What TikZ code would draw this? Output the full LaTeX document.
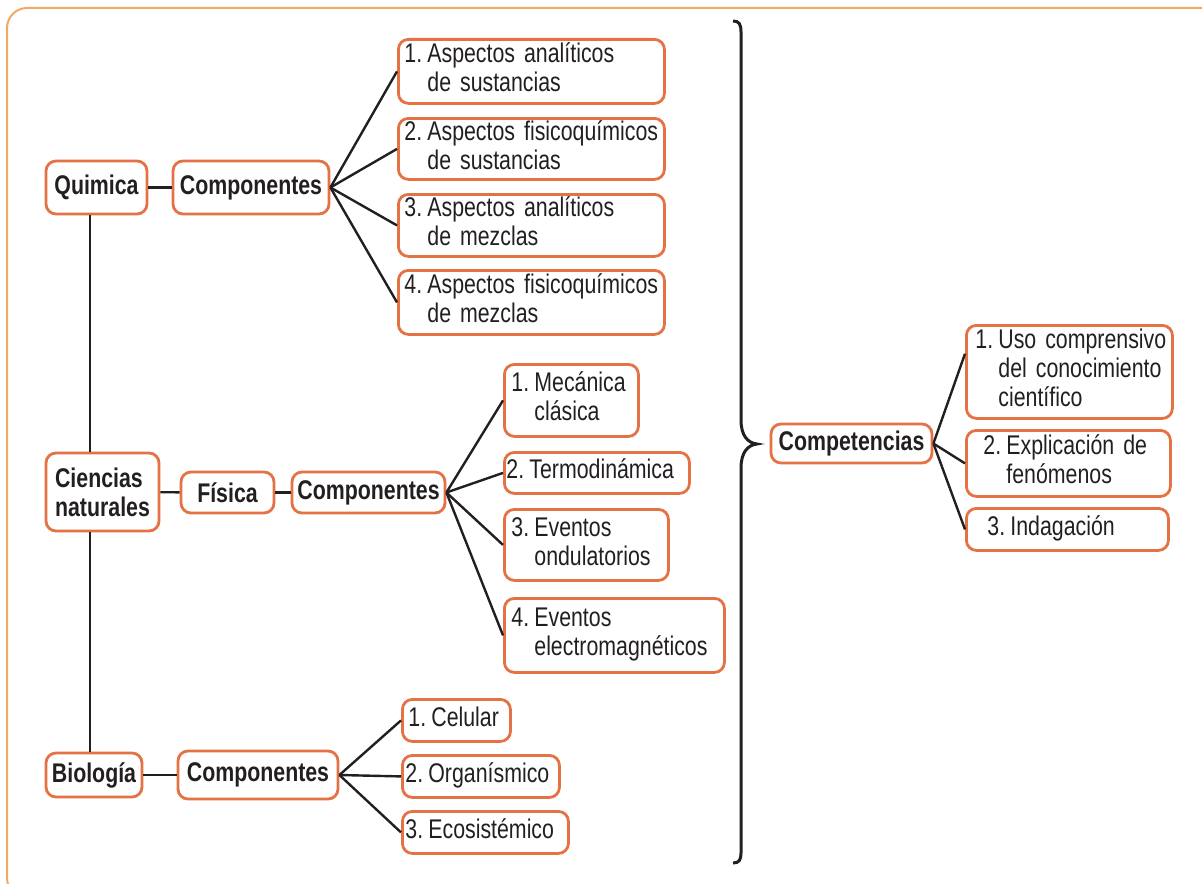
\documentclass[tikz,border=0pt]{standalone}
\usepackage{fontspec}
\setmainfont{Liberation Sans}[FakeStretch=0.79]
\usetikzlibrary{calc}
\definecolor{boxc}{RGB}{229,114,68}
\definecolor{framec}{RGB}{240,170,100}
\definecolor{txt}{RGB}{35,31,32}
\newcommand\lf[3]{\hspace*{#1pt}#2\kern2.6pt\begin{tabular}[t]{@{}l@{}}#3\end{tabular}}
\tikzset{
  box/.style={draw=boxc, line width=1.4pt, rounded corners=5pt, text=txt, inner sep=0pt},
  head/.style={box, font=\fontsize{13.5}{14.5}\selectfont\bfseries, align=left},
  leaf/.style={box, font=\fontsize{13.5}{14.5}\selectfont, align=left, anchor=north west},
  conn/.style={draw=txt, line width=1.2pt},
}
\begin{document}
\begin{tikzpicture}[x=0.5pt,y=-0.5pt]
\useasboundingbox (0,0) rectangle (1202,883);
\begin{scope}
\clip (0,0) rectangle (1202,883);
\draw[framec, line width=1pt, rounded corners=10pt] (7,8) rectangle (1250,898);
\end{scope}

% heads
\node[head, minimum width=50.5pt, minimum height=26.5pt] (Q) at (96.5,187.5) {Quimica};
\node[head, minimum width=78pt, minimum height=26.5pt] (CQ) at (251,187.5) {Componentes};
\node[head, minimum width=56.5pt, minimum height=39pt] (CN) at (102.5,492) {Ciencias\\naturales};
\node[head, minimum width=46.5pt, minimum height=20.5pt] (F) at (227.5,492.5) {Física};
\node[head, minimum width=76.5pt, minimum height=20.5pt] (CF) at (368.5,492.5) {Componentes};
\node[head, minimum width=48pt, minimum height=22pt] (B) at (94,775) {Biología};
\node[head, minimum width=80pt, minimum height=24pt] (CB) at (258,775) {Componentes};
\node[head, minimum width=80.5pt, minimum height=19.5pt] (K) at (851.5,443.5) {Competencias};

% quimica leaves
\node[leaf, text width=133pt, minimum height=32pt] (q1) at (397,38) {\lf{3}{1.}{Aspectos analíticos\\de sustancias}};
\node[leaf, text width=133pt, minimum height=30.5pt] (q2) at (397,117) {\lf{3}{2.}{Aspectos fisicoquímicos\\de sustancias}};
\node[leaf, text width=133pt, minimum height=31pt] (q3) at (397,193) {\lf{3}{3.}{Aspectos analíticos\\de mezclas}};
\node[leaf, text width=133pt, minimum height=32pt] (q4) at (397,269) {\lf{3}{4.}{Aspectos fisicoquímicos\\de mezclas}};

% fisica leaves
\node[leaf, text width=67pt, minimum height=36pt] (f1) at (503,363) {\lf{3.5}{1.}{Mecánica\\clásica}};
\node[leaf, text width=92.5pt, minimum height=20.5pt] (f2) at (503,451) {\lf{1}{2.}{Termodinámica}};
\node[leaf, text width=82pt, minimum height=35.5pt] (f3) at (503,508) {\lf{3.5}{3.}{Eventos\\ondulatorios}};
\node[leaf, text width=110pt, minimum height=37pt] (f4) at (503,597) {\lf{3.5}{4.}{Eventos\\electromagnéticos}};

% biologia leaves
\node[leaf, text width=54pt, minimum height=21pt] (b1) at (401,698) {\lf{3}{1.}{Celular}};
\node[leaf, text width=78.5pt, minimum height=21pt] (b2) at (401,754) {\lf{1.5}{2.}{Organísmico}};
\node[leaf, text width=83pt, minimum height=21pt] (b3) at (401,810) {\lf{1.5}{3.}{Ecosistémico}};

% competencias leaves
\node[leaf, text width=103pt, minimum height=46.5pt] (c1) at (965,324) {\lf{4.5}{1.}{Uso comprensivo\\del conocimiento\\científico}};
\node[leaf, text width=102pt, minimum height=33pt] (c2) at (965,429) {\lf{8.5}{2.}{Explicación de\\fenómenos}};
\node[leaf, text width=101pt, minimum height=21pt] (c3) at (965,507) {\lf{10.5}{3.}{Indagación}};

% connectors
\coordinate (vx) at (90,0);
\draw[conn] (Q.south -| vx) -- (CN.north -| vx);
\draw[conn] (CN.south -| vx) -- (B.north -| vx);
\draw[conn] (Q) -- (CQ);
\draw[conn] (CN) -- (F);
\draw[conn] (F) -- (CF);
\draw[conn] (B) -- (CB);
\foreach \n in {q1,q2,q3,q4} \draw[conn] (CQ.east) -- (\n.west);
\foreach \n in {f1,f2,f3,f4} \draw[conn] (CF.east) -- (\n.west);
\foreach \n in {b1,b2,b3} \draw[conn] (CB.east) -- (\n.west);
\coordinate (c1e) at ($(c1.north west)!0.31!(c1.south west)$);
\draw[conn] (K.east) -- (c1e);
\draw[conn] (K.east) -- (c2.west);
\draw[conn] (K.east) -- (c3.west);

% brace
\draw[txt, line width=1.5pt] (733,21) .. controls (739,21) and (741,24) .. (741,32)
  -- (741,420) .. controls (741,436) and (748,443) .. (757,444)
  .. controls (748,445) and (741,452) .. (741,468)
  -- (741,853) .. controls (741,860) and (739,863) .. (733,863);
\end{tikzpicture}
\end{document}
